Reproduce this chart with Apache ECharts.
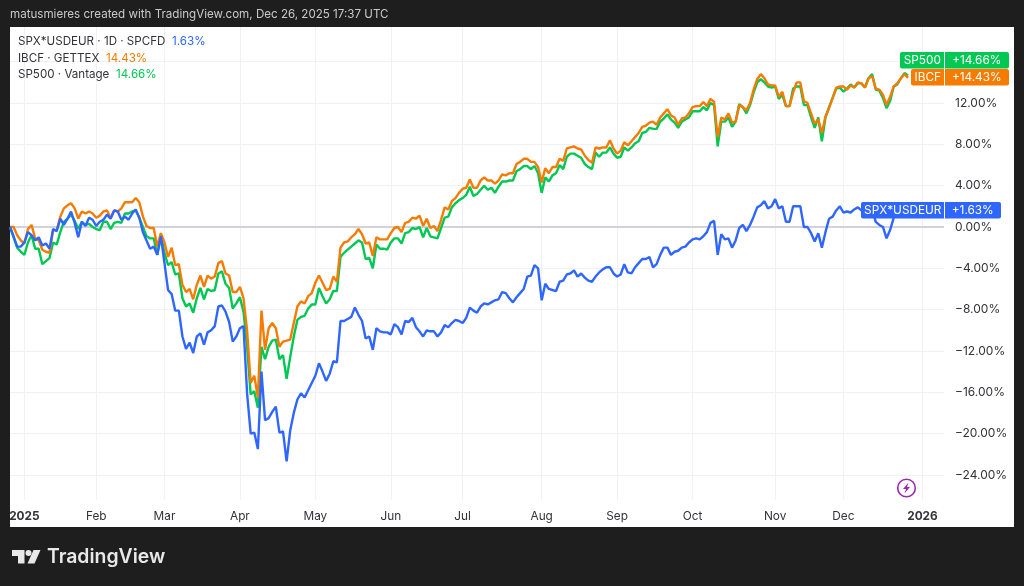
<!DOCTYPE html>
<html>
<head>
<meta charset="utf-8">
<style>html,body{margin:0;padding:0;background:#1e1e1e}#c{width:1024px;height:586px}</style>
<script src="https://cdn.jsdelivr.net/npm/echarts@6/dist/echarts.min.js"></script>
</head>
<body>
<div id="c"></div>
<script>
const categories = [
"2024-12-26","2024-12-27","2024-12-30","2024-12-31",
"2025-01-02","2025-01-03","2025-01-06","2025-01-07","2025-01-08","2025-01-10","2025-01-13","2025-01-14","2025-01-15","2025-01-16","2025-01-17","2025-01-21","2025-01-22","2025-01-23","2025-01-24","2025-01-27","2025-01-28","2025-01-29","2025-01-30","2025-01-31",
"2025-02-03","2025-02-04","2025-02-05","2025-02-06","2025-02-07","2025-02-10","2025-02-11","2025-02-12","2025-02-13","2025-02-14","2025-02-18","2025-02-19","2025-02-20","2025-02-21","2025-02-24","2025-02-25","2025-02-26","2025-02-27","2025-02-28",
"2025-03-03","2025-03-04","2025-03-05","2025-03-06","2025-03-07","2025-03-10","2025-03-11","2025-03-12","2025-03-13","2025-03-14","2025-03-17","2025-03-18","2025-03-19","2025-03-20","2025-03-21","2025-03-24","2025-03-25","2025-03-26","2025-03-27","2025-03-28","2025-03-31",
"2025-04-01","2025-04-02","2025-04-03","2025-04-04","2025-04-07","2025-04-08","2025-04-09","2025-04-10","2025-04-11","2025-04-14","2025-04-15","2025-04-16","2025-04-17","2025-04-21","2025-04-22","2025-04-23","2025-04-24","2025-04-25","2025-04-28","2025-04-29","2025-04-30",
"2025-05-01","2025-05-02","2025-05-05","2025-05-06","2025-05-07","2025-05-08","2025-05-09","2025-05-12","2025-05-13","2025-05-14","2025-05-15","2025-05-16","2025-05-19","2025-05-20","2025-05-21","2025-05-22","2025-05-23","2025-05-27","2025-05-28","2025-05-29","2025-05-30",
"2025-06-02","2025-06-03","2025-06-04","2025-06-05","2025-06-06","2025-06-09","2025-06-10","2025-06-11","2025-06-12","2025-06-13","2025-06-16","2025-06-17","2025-06-18","2025-06-20","2025-06-23","2025-06-24","2025-06-25","2025-06-26","2025-06-27","2025-06-30",
"2025-07-01","2025-07-02","2025-07-03","2025-07-07","2025-07-08","2025-07-09","2025-07-10","2025-07-11","2025-07-14","2025-07-15","2025-07-16","2025-07-17","2025-07-18","2025-07-21","2025-07-22","2025-07-23","2025-07-24","2025-07-25","2025-07-28","2025-07-29","2025-07-30","2025-07-31",
"2025-08-01","2025-08-04","2025-08-05","2025-08-06","2025-08-07","2025-08-08","2025-08-11","2025-08-12","2025-08-13","2025-08-14","2025-08-15","2025-08-18","2025-08-19","2025-08-20","2025-08-21","2025-08-22","2025-08-25","2025-08-26","2025-08-27","2025-08-28","2025-08-29",
"2025-09-02","2025-09-03","2025-09-04","2025-09-05","2025-09-08","2025-09-09","2025-09-10","2025-09-11","2025-09-12","2025-09-15","2025-09-16","2025-09-17","2025-09-18","2025-09-19","2025-09-22","2025-09-23","2025-09-24","2025-09-25","2025-09-26","2025-09-29","2025-09-30",
"2025-10-01","2025-10-02","2025-10-03","2025-10-06","2025-10-07","2025-10-08","2025-10-09","2025-10-10","2025-10-13","2025-10-14","2025-10-15","2025-10-16","2025-10-17","2025-10-20","2025-10-21","2025-10-22","2025-10-23","2025-10-24","2025-10-27","2025-10-28","2025-10-29","2025-10-30","2025-10-31",
"2025-11-03","2025-11-04","2025-11-05","2025-11-06","2025-11-07","2025-11-10","2025-11-11","2025-11-12","2025-11-13","2025-11-14","2025-11-17","2025-11-18","2025-11-19","2025-11-20","2025-11-21","2025-11-24","2025-11-25","2025-11-26","2025-11-28",
"2025-12-01","2025-12-02","2025-12-03","2025-12-04","2025-12-05","2025-12-08","2025-12-09","2025-12-10","2025-12-11","2025-12-12","2025-12-15","2025-12-16","2025-12-17","2025-12-18","2025-12-19","2025-12-22","2025-12-23","2025-12-24","2025-12-26","2025-12-29","2025-12-30","2025-12-31",
"2026-01-02","2026-01-05","2026-01-06","2026-01-07","2026-01-08","2026-01-09","2026-01-12"];

const tickDates = ["2025-01-02","2025-02-03","2025-03-03","2025-04-01","2025-05-01","2025-06-02","2025-07-01","2025-08-01","2025-09-02","2025-10-01","2025-11-03","2025-12-01","2026-01-02"];
const tickLabels = ["2025","Feb","Mar","Apr","May","Jun","Jul","Aug","Sep","Oct","Nov","Dec","2026"];
const yGridValues = [-24,-20,-16,-12,-8,-4,0,4,8,12,16];
const yLabelValues = [-24,-20,-16,-12,-8,-4,0,4,8,12];

const spxUsdeur = [0,-0.9,-1.9,-1.9,-1.5,-0.5,-0.8,-1.3,-1.0,-1.8,-1.6,-2.1,-0.2,-0.4,0.8,0.2,0.8,1.5,0.4,-1.0,0.5,0.1,0.9,0.7,0.1,0.5,0.7,1.2,0.8,1.6,1.5,0.7,1.0,0.7,1.3,1.7,0.9,-0.5,-1.3,-2.1,-1.9,-2.7,-0.9,-3.5,-6.1,-6.5,-8.1,-8.1,-10.6,-11.8,-11.2,-12.2,-10.6,-10.3,-11.4,-10.2,-10.0,-9.6,-7.7,-7.6,-8.2,-9.2,-11.1,-10.6,-9.8,-9.6,-16.1,-20.0,-19.9,-21.5,-14.0,-18.7,-18.5,-17.9,-17.4,-19.9,-19.8,-22.7,-19.7,-18.0,-16.7,-16.1,-16.5,-15.8,-15.1,-14.4,-13.2,-14.0,-14.9,-14.2,-13.0,-13.1,-9.1,-9.1,-8.9,-8.7,-7.8,-8.5,-9.1,-10.8,-10.6,-11.9,-9.8,-10.1,-10.2,-10.2,-10.4,-9.4,-9.7,-10.4,-9.1,-9.2,-8.8,-9.7,-10.1,-10.6,-10.0,-10.1,-10.1,-10.6,-10.2,-9.5,-9.7,-9.3,-9.0,-9.1,-9.3,-8.8,-7.8,-8.1,-8.3,-7.7,-7.4,-7.5,-7.3,-7.1,-7.0,-6.3,-6.4,-6.9,-7.3,-6.8,-6.4,-6.0,-4.8,-4.7,-3.7,-4.0,-7.1,-5.5,-6.0,-6.1,-6.2,-5.3,-5.2,-4.6,-4.5,-4.2,-4.8,-4.5,-4.9,-5.2,-5.3,-4.8,-4.4,-4.1,-3.9,-3.9,-4.5,-4.8,-4.6,-3.6,-4.4,-4.5,-3.9,-3.5,-3.1,-3.1,-2.9,-3.9,-3.6,-2.7,-2.0,-2.0,-2.7,-2.4,-2.3,-2.0,-1.9,-1.5,-1.2,-1.1,-1.2,-0.9,-0.5,0.4,0.6,-2.7,-0.7,-1.2,-1.1,-2.0,-1.3,-0.1,0.2,-0.4,0.2,1.0,1.9,2.1,2.5,1.8,2.0,2.7,1.8,2.0,0.5,0.5,2.0,2.0,2.0,0,0,-0.6,-1.4,-0.6,-2.0,-0.5,0.8,1.0,1.6,2.0,1.4,1.5,1.4,1.7,1.9,1.6,1.5,1.6,1.7,0.5,0.2,0,-1.1,-0.3,0.9,1.4,1.5,1.7,1.63];

const ibcf = [0,0,-0.8,-1.3,-1.6,-0.2,0.2,-1.1,-1.3,-2.2,-2.4,-2.5,-0.3,-0.3,1.0,1.8,2.1,2.3,1.8,0.8,1.5,1.3,1.5,1.3,0.9,1.1,1.5,1.6,0.9,1.6,1.5,1.8,2.4,2.4,2.4,2.8,2.4,1.0,0.1,-0.1,-0.1,-1.9,-0.6,-1.5,-2.9,-2.0,-3.7,-3.6,-5.6,-6.3,-6.0,-7.0,-5.6,-4.7,-5.8,-4.7,-5.0,-4.8,-3.5,-3.3,-4.5,-4.7,-6.3,-6.3,-5.8,-6.9,-10.0,-15.1,-14.4,-16.5,-8.1,-11.9,-9.8,-9.3,-9.8,-11.6,-11.1,-11.0,-10.9,-9.3,-7.7,-7.2,-7.4,-6.7,-6.4,-5.4,-4.7,-5.4,-6.1,-6.0,-4.8,-5.3,-2.0,-1.5,-1.4,-1.0,-0.7,-0.2,-0.7,-1.6,-1.5,-2.8,-1.0,-1.2,-1.2,-1.2,-0.6,-0.1,0,-0.5,0.4,0.5,0.9,0.8,1.1,0.1,0.8,-0.1,0.1,-0.4,0.7,1.9,1.7,2.5,2.8,3.3,3.7,3.8,4.6,3.8,3.8,4.5,4.8,4.5,4.5,4.2,4.5,5.1,5.0,5.2,5.2,6.1,6.3,6.6,6.6,6.3,6.3,5.8,4.3,5.7,5.2,5.8,5.8,6.6,6.4,7.6,7.7,7.8,7.6,7.5,6.9,6.5,6.2,7.7,7.6,7.7,7.7,8.4,7.6,7.1,7.4,8.2,7.9,8.3,8.7,9.1,9.7,9.8,10.1,10.2,9.9,10.6,11.0,11.4,10.8,10.6,9.9,10.5,10.6,11.0,11.6,11.7,11.7,12.1,11.7,12.4,12.1,8.7,10.6,10.4,11.0,10.1,10.2,11.8,11.6,11.3,12.0,13.3,14.3,14.8,14.4,13.8,13.7,13.7,12.6,13.1,11.7,11.7,13.0,14.0,14.0,12.2,12.0,11.0,10.0,10.4,9.1,10.7,11.5,12.5,13.5,13.6,13.6,13.3,13.7,13.5,14.0,13.9,13.5,14.4,14.6,13.4,13.3,12.8,11.8,12.6,13.6,13.9,14.4,14.8,14.43];

const sp500 = [0,-1.0,-2.0,-2.4,-2.7,-1.5,-0.8,-2.1,-2.1,-3.6,-3.3,-3.0,-1.5,-1.7,-0.5,0.5,0.8,1.2,0.6,-0.2,0.5,0.2,0.3,0,-0.2,-0.3,0.5,0.5,-0.2,0.4,0.5,0.4,1.3,1.3,1.5,1.6,0.9,0,-0.9,-1.1,-1.1,-2.7,-0.8,-2.5,-3.7,-3.4,-4.6,-4.5,-6.9,-7.7,-7.4,-8.3,-6.9,-5.9,-7.0,-6.0,-6.2,-6.1,-4.5,-4.3,-5.5,-5.9,-7.9,-7.4,-6.8,-8.2,-11.6,-16.2,-15.9,-17.5,-11.6,-12.8,-11.6,-11.0,-10.9,-12.8,-12.4,-14.7,-12.6,-10.6,-9.0,-8.7,-8.6,-7.9,-7.5,-7.5,-5.9,-6.7,-7.4,-7.0,-6.2,-6.2,-2.9,-2.5,-2.2,-1.9,-1.6,-1.3,-1.5,-3.1,-3.0,-4.0,-1.7,-2.1,-2.1,-2.2,-1.5,-1.1,-1.1,-1.6,-0.6,-0.5,-0.1,-0.2,0,-1.0,-0.1,-0.9,-1.0,-1.1,-0.1,0.9,1.0,1.9,2.3,2.6,2.8,3.1,3.9,3.0,3.2,3.6,4.0,3.6,3.8,3.3,3.9,4.4,4.4,4.5,4.5,5.4,5.6,5.9,5.9,5.6,5.9,5.2,3.3,4.8,4.4,5.0,5.2,6.0,5.6,6.8,7.1,7.1,6.9,6.7,6.1,5.8,5.6,7.2,6.8,7.2,7.2,7.7,7.1,6.7,6.8,7.7,7.4,7.7,8.1,8.3,9.1,9.2,9.6,9.5,9.5,10.2,10.5,10.9,10.4,10.1,9.6,10.2,10.4,10.6,11.2,11.2,11.2,11.6,11.3,12.0,11.8,7.8,10.2,10.2,10.6,9.7,10.2,11.9,11.6,11.0,11.8,13.0,14.0,14.3,14.0,13.6,13.5,13.6,12.4,12.8,11.7,11.7,13.4,13.6,13.6,11.8,11.8,10.6,9.6,10.6,8.3,10.6,11.6,12.5,13.4,13.5,13.1,13.4,13.8,13.5,13.9,13.9,13.5,14.4,14.8,13.3,13.2,12.5,11.5,12.2,13.6,13.8,14.4,14.9,14.66];

const BLUE = '#2e66ff', ORANGE = '#f57c00', GREEN = '#00c853';
const FONT = 'Inter, "Open Sans", sans-serif';
const TEXT = '#333338';

const legendRows = [
  ['SPX*USDEUR · 1D · SPCFD', '1.63%', BLUE, 42],
  ['IBCF · GETTEX', '14.43%', ORANGE, 59],
  ['SP500 · Vantage', '14.66%', GREEN, 75]
];
const tags = [
  ['SP500', '+14.66%', GREEN, 900, 1009, 52],
  ['IBCF', '+14.43%', ORANGE, 911, 1009, 69],
  ['SPX*USDEUR', '+1.63%', BLUE, 861, 1001, 202]
];

const chart = echarts.init(document.getElementById('c'), null, {renderer: 'canvas'});

const graphics = [
  {type:'rect', silent:true, z:-10, shape:{x:10, y:27, width:1004, height:500}, style:{fill:'#ffffff'}},
  {type:'text', silent:true, x:10, y:15, style:{text:'matusmieres created with TradingView.com, Dec 26, 2025 17:37 UTC', fill:'#c9c9c9', font:'11.6px '+FONT, textVerticalAlign:'middle'}}
];
legendRows.forEach(r => graphics.push({
  type:'text', silent:true, x:18, y:r[3], z:20,
  style:{text:'{a|'+r[0]+'}  {b|'+r[1]+'}', textVerticalAlign:'middle',
    rich:{a:{fill:TEXT, font:'11.6px '+FONT}, b:{fill:r[2], font:'11.6px '+FONT}}}
}));
tags.forEach(t => {
  const h = 16.5, div = 944.5;
  graphics.push({type:'rect', silent:true, z:20, shape:{x:t[3], y:t[5], width:t[4]-t[3], height:h, r:2}, style:{fill:t[2]}});
  graphics.push({type:'rect', silent:true, z:21, shape:{x:div-0.5, y:t[5], width:1, height:h}, style:{fill:'#ffffff'}});
  graphics.push({type:'text', silent:true, z:22, x:(t[3]+div)/2, y:t[5]+h/2, style:{text:t[0], fill:'#ffffff', font:'11.8px '+FONT, textAlign:'center', textVerticalAlign:'middle'}});
  graphics.push({type:'text', silent:true, z:22, x:(div+t[4])/2, y:t[5]+h/2, style:{text:t[1], fill:'#ffffff', font:'11.8px '+FONT, textAlign:'center', textVerticalAlign:'middle'}});
});
// bolt badge
graphics.push({type:'circle', silent:true, z:20, shape:{cx:906.5, cy:488, r:8.8}, style:{fill:'#fff', stroke:'#9c27b0', lineWidth:1.6}});
graphics.push({type:'polygon', silent:true, z:21, shape:{points:[[908.5,482.5],[903,489],[906,489],[904.5,493.5],[910,487],[907,487]]}, style:{fill:'#9c27b0'}});
// logo
graphics.push({type:'polygon', silent:true, shape:{points:[[12,550],[24.5,550],[24.5,563.5],[18,563.5],[18,556],[12,556]]}, style:{fill:'#e8e8e8'}});
graphics.push({type:'circle', silent:true, shape:{cx:28.5, cy:553, r:3}, style:{fill:'#e8e8e8'}});
graphics.push({type:'polygon', silent:true, shape:{points:[[33.5,550],[40.5,550],[34.5,563.5],[27.5,563.5]]}, style:{fill:'#e8e8e8'}});
graphics.push({type:'text', silent:true, x:47, y:557, style:{text:'TradingView', fill:'#e8e8e8', font:'600 19.4px '+FONT, textVerticalAlign:'middle'}});

chart.setOption({
  animation:false,
  backgroundColor:'#1e1e1e',
  graphic: graphics,
  grid:{left:10, top:27, width:934, height:473, containLabel:false},
  xAxis:{
    type:'category', data:categories, boundaryGap:false,
    axisLine:{show:false}, axisTick:{show:false},
    axisLabel:{
      interval:(i,v)=>tickDates.includes(v),
      margin:10, hideOverlap:false, color:TEXT, fontFamily:FONT, fontSize:11.8,
      formatter:v=>{
        const s = tickLabels[tickDates.indexOf(v)];
        return /^\d/.test(s) ? '{y|'+s+'}' : s;
      },
      rich:{y:{fontWeight:700, color:TEXT, fontFamily:FONT, fontSize:11.8}}
    },
    splitLine:{show:true, interval:(i,v)=>tickDates.includes(v), lineStyle:{color:'#f0f1f4', width:1}}
  },
  yAxis:{
    type:'value', position:'right', min:-26.43, max:19.36, scale:true,
    axisLine:{show:false},
    axisTick:{show:false, customValues:yGridValues},
    axisLabel:{
      customValues:yLabelValues, margin:11, padding:[2,0,0,0], color:TEXT, fontFamily:FONT, fontSize:12,
      formatter:v=>(v<0?'\u2212':'')+Math.abs(v).toFixed(2)+'%'
    },
    splitLine:{show:true, lineStyle:{color:'#f0f1f4', width:1}}
  },
  series:[
    {name:'SP500 · Vantage', type:'line', data:sp500, symbol:'none', silent:true, z:3,
      lineStyle:{color:GREEN, width:2.4}, itemStyle:{color:GREEN},
      markLine:{silent:true, symbol:'none', z:1, label:{show:false},
        lineStyle:{color:'#d2d2dc', width:1.8, type:'solid'}, data:[{yAxis:0}]}},
    {name:'IBCF · GETTEX', type:'line', data:ibcf, symbol:'none', silent:true, z:4,
      lineStyle:{color:ORANGE, width:2.4}, itemStyle:{color:ORANGE}},
    {name:'SPX*USDEUR · 1D · SPCFD', type:'line', data:spxUsdeur, symbol:'none', silent:true, z:5,
      lineStyle:{color:BLUE, width:2.4}, itemStyle:{color:BLUE}}
  ]
});
</script>
</body>
</html>
